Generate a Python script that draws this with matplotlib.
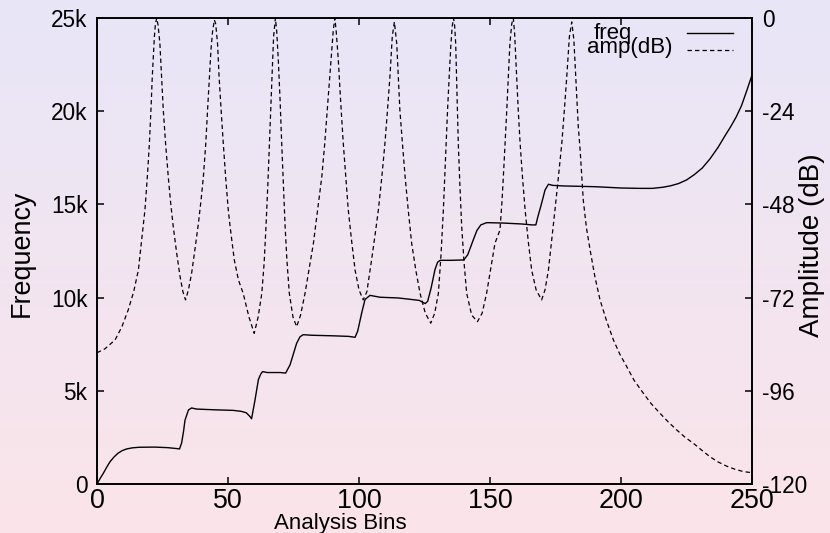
import numpy as np
import matplotlib.pyplot as plt
from matplotlib.lines import Line2D

plt.rcParams['font.family'] = ['Liberation Sans', 'DejaVu Sans']
plt.rcParams['axes.unicode_minus'] = False

# frequency track (bin, Hz in k)
freq_bins = [0, 1.2, 2.4, 3.7, 5, 6.5, 8, 9.6, 11.3, 13.5, 16, 22, 27, 30.5, 31.5, 32.3, 33, 33.6, 34.9,
             36.1, 38, 45, 52, 55, 57, 58.5, 59, 60.3, 61.6, 62.5, 63.2, 65, 70, 72, 73.7, 75, 76.2, 77.5,
             78.7, 82, 90, 96, 98.5, 99.5, 101, 102.3, 104.2, 108, 115, 120, 123, 125.3, 126.2, 127.5,
             129, 130, 131, 135, 140, 141.5, 143.6, 145, 146.5, 148.7, 155, 162, 166, 167.5, 168.2,
             169.7, 171, 172.3, 174, 178, 190, 200, 207, 212, 216, 219, 222, 225, 228, 231, 234, 237,
             240, 242, 244, 246, 248, 250]
freq_k = [0, 0.3, 0.57, 0.9, 1.2, 1.45, 1.65, 1.79, 1.88, 1.94, 1.97, 1.98, 1.95, 1.9, 1.88, 2.2, 2.8,
          3.43, 3.97, 4.08, 4.02, 3.98, 3.95, 3.9, 3.82, 3.6, 3.5, 4.5, 5.6, 5.9, 6.03, 5.98, 5.98, 5.95,
          6.4, 7.0, 7.55, 7.9, 8.01, 7.98, 7.95, 7.92, 7.87, 8.2, 9.16, 9.9, 10.12, 10.02, 9.98, 9.9,
          9.85, 9.68, 9.8, 10.5, 11.5, 11.9, 12.0, 12.0, 12.02, 12.3, 13.09, 13.6, 13.9, 14.02, 14.0,
          13.95, 13.9, 13.9, 14.3, 15.06, 15.77, 16.08, 16.02, 15.99, 15.95, 15.88, 15.86, 15.86, 15.92,
          16.0, 16.12, 16.31, 16.6, 16.95, 17.45, 18.05, 18.75, 19.2, 19.7, 20.3, 21.1, 21.94]

# amplitude track (bin, dB)
amp_bins = [0, 3, 6.9, 9.5, 11.9, 14, 15.8, 17, 18.3, 19.2, 20, 20.6, 21.1, 21.6, 21.9, 22.3, 22.8, 23.3,
            24.0, 24.6, 25.3, 26.2, 27.2, 28.1, 29.1, 30.4, 31.7, 32.8, 33.8, 34.9, 36.1, 37.4, 38.7,
            39.7, 40.6, 41.5, 42.2, 42.9, 43.5, 44.1, 44.8, 45.3, 46, 46.6, 47.4, 48.2, 49.1, 50.1, 50.8,
            52.4, 54, 55.8, 58, 60.0, 61.5, 62.9, 63.8, 64.5, 65.2, 65.8, 66.3, 66.8, 67.4, 68.1, 68.6,
            69.2, 69.9, 70.5, 71.2, 71.8, 72.5, 73.4, 74.8, 76.2, 77.7, 79.4, 81, 82.6, 84.2, 85.8, 86.9,
            87.9, 88.8, 89.6, 90.2, 90.8, 91.3, 92.1, 93, 94.0, 95, 95.9, 97.2, 98.5, 100, 101.6, 103,
            104.8, 106.1, 107.4, 108.7, 109.9, 110.9, 111.8, 112.7, 113.5, 114.4, 115, 115.6, 116.6,
            117.6, 118.8, 120.1, 121.7, 123.3, 125.3, 127.4, 128.9, 130.3, 131.3, 132.2, 133, 133.8,
            134.5, 135.1, 135.6, 136.1, 136.5, 136.9, 137.4, 137.9, 138.5, 139.2, 140.1, 141.1, 143,
            145.2, 147, 148.7, 150.3, 151.9, 153.8, 154.6, 155.4, 156.4, 157.0, 157.6, 158.3, 158.9,
            159.4, 160.2, 160.8, 161.5, 162.4, 163.4, 164.6, 165.9, 167.6, 169.7, 171, 172.3, 173.5,
            174.8, 176.1, 177.4, 178.4, 179.3, 180.3, 181.2, 182, 182.4, 183.1, 183.7, 184.4, 185.6,
            186.8, 188.2, 190, 192, 194.5, 197.1, 199.5, 202.2, 205, 208.5, 211.5, 214.9, 218, 221.3,
            224.5, 227.6, 231, 234, 237, 240.3, 243.5, 246.7, 250]
amp_db = [-86.2, -85.2, -82.9, -79.5, -75.2, -70.5, -64.9, -57.5, -49.4, -41, -32.3, -23.5, -15.1, -8.5,
          -4.8, -1.5, 0, -1.8, -6.5, -14.5, -23.7, -32.5, -40.9, -47.5, -53.7, -60.5, -66.6, -70.5,
          -72.6, -70, -65.8, -59.5, -52.9, -47, -40.9, -32.5, -23.7, -15.5, -8.2, -3.5, -0.5, -1.5,
          -6.5, -15.1, -24, -32.3, -41, -49.4, -53.7, -62.3, -67.5, -70.9, -77, -81.2, -77, -70.9, -63,
          -53.7, -43, -32.3, -23.5, -15.1, -4.8, 0, -3.5, -10.8, -21.5, -32.3, -43.5, -53.7, -62.5,
          -70.9, -77, -79.5, -76.5, -70.9, -64.5, -58.0, -49.5, -40.9, -32.5, -23.7, -15.5, -8.2, -3,
          0, -3.5, -10.8, -21.5, -32.3, -41.5, -49.4, -57.5, -64.9, -70, -72.6, -70.5, -62.3, -56,
          -49.4, -41, -32.3, -23.5, -15.1, -4.8, -1, -6.5, -15, -23.7, -32.5, -40.9, -49.5, -58.0, -65,
          -70.9, -76, -78.6, -76, -70.9, -61, -49.4, -36.5, -23.7, -14, -6.5, -2, 0, -2, -6.5, -19,
          -32.3, -43, -53.7, -63, -70.9, -76.5, -78.2, -76, -70.9, -64.5, -58.0, -54.6, -47, -37,
          -23.7, -15, -6.5, -1.5, 0, -4, -15.1, -24, -32.3, -41, -49.4, -57.5, -64.9, -70, -72.6, -70,
          -64.9, -57.5, -49.4, -41, -32.3, -23.5, -15.1, -4.8, -1, -5.5, -10.8, -20, -28, -34, -46.9,
          -54, -59.7, -66.5, -72.6, -78, -82.9, -86.5, -89.8, -93.3, -96.6, -99.3, -101.8, -104,
          -106.1, -108, -109.5, -111.4, -113, -114.3, -115.4, -116.2, -116.8, -117.1]

freq_ticks = [0, 5, 10, 15, 20, 25]
freq_labels = ['0', '5k', '10k', '15k', '20k', '25k']
amp_ticks = [-120, -96, -72, -48, -24, 0]
bin_ticks = [0, 50, 100, 150, 200, 250]

W, H = 830, 533
fig = plt.figure(figsize=(W / 100, H / 100), dpi=100)

# background gradient
bg = fig.add_axes([0, 0, 1, 1], zorder=-10)
grad = np.linspace(0, 1, 256)[:, None]
top = np.array([232, 230, 248]) / 255
bot = np.array([251, 228, 233]) / 255
img = top[None, None, :] * (1 - grad[:, :, None]) + bot[None, None, :] * grad[:, :, None]
bg.imshow(img, aspect='auto', extent=[0, 1, 0, 1])
bg.axis('off')

ax = fig.add_axes([97 / W, 49 / H, 655 / W, 466 / H])
ax.set_facecolor('none')
ax2 = ax.twinx()

ax.plot(freq_bins, freq_k, color='black', lw=1.0)
ax2.plot(amp_bins, amp_db, color='black', lw=0.9, dashes=(3.5, 2.5))

ax.set_xlim(0, 250)
ax.set_ylim(0, 25)
ax2.set_ylim(-120, 0)

ax.set_xticks(bin_ticks)
ax.set_yticks(freq_ticks)
ax.set_yticklabels(freq_labels)
ax2.set_yticks(amp_ticks)

ax.tick_params(axis='x', direction='in', length=5, width=1.1, top=True, labelsize=19.4, pad=3)
ax.tick_params(axis='y', direction='in', length=5, width=1.1, labelsize=16.3, pad=7)
ax2.tick_params(axis='y', direction='in', length=5, width=1.1, labelsize=16.3, pad=7)
for a in (ax, ax2):
    for s in a.spines.values():
        s.set_linewidth(1.2)

fig.text(22 / W, 1 - 253 / H, 'Frequency', rotation=90, ha='center', va='center', fontsize=19.4)
fig.text(812 / W, 1 - 245 / H, 'Amplitude (dB)', rotation=90, ha='center', va='center', fontsize=20)
fig.text(340 / W, 1 - 524 / H, 'Analysis Bins', ha='center', va='center', fontsize=16)

# key
fig.text(594 / W, 1 - 39.3 / H, 'freq', ha='left', va='baseline', fontsize=16)
fig.text(587 / W, 1 - 52.7 / H, 'amp(dB)', ha='left', va='baseline', fontsize=16)
fig.add_artist(Line2D([686.7 / W, 732.7 / W], [1 - 33.3 / H, 1 - 33.3 / H], color='black', lw=1.0))
fig.add_artist(Line2D([686.7 / W, 732.7 / W], [1 - 50 / H, 1 - 50 / H], color='black', lw=0.9,
                      dashes=(3.5, 2.5)))

fig.savefig('out.png', dpi=100)
